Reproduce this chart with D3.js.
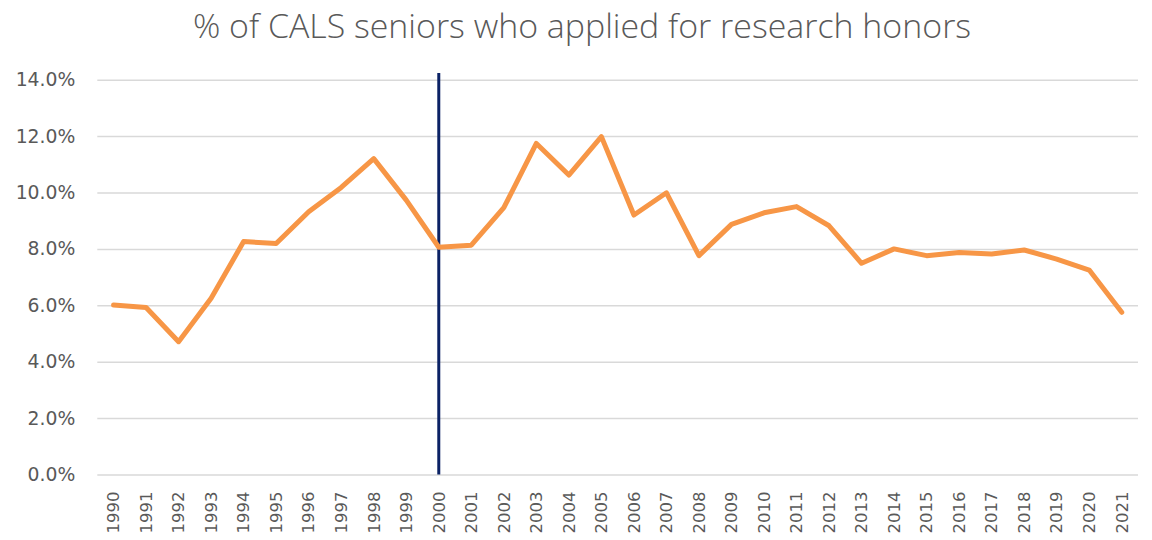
<!DOCTYPE html>
<html><head><meta charset="utf-8">
<script src="https://cdn.jsdelivr.net/npm/d3@7"></script>
<style>body{margin:0;background:#fff}</style>
</head><body>
<svg id="c" width="1152" height="540"></svg>
<script>
const years = ["1990","1991","1992","1993","1994","1995","1996","1997","1998","1999","2000","2001","2002","2003","2004","2005","2006","2007","2008","2009","2010","2011","2012","2013","2014","2015","2016","2017","2018","2019","2020","2021"];
const values = [6.01,5.92,4.71,6.25,8.26,8.19,9.32,10.18,11.2,9.73,8.06,8.13,9.46,11.74,10.62,11.98,9.2,9.99,7.76,8.87,9.28,9.5,8.82,7.49,8.0,7.76,7.87,7.82,7.96,7.64,7.25,5.75];
const yTicks = [0,2,4,6,8,10,12,14];
const markerYear = "2000";
const title = "% of CALS seniors who applied for research honors";

const svg = d3.select("#c");
const mLeft = 97.3, mRight = 1138, mTop = 79.7, mBottom = 474.5;
const x = d3.scaleBand().domain(years).range([mLeft, mRight]);
const y = d3.scaleLinear().domain([0,14]).range([mBottom, mTop]);

svg.append("text").attr("x", 582).attr("y", 38).attr("text-anchor","middle")
  .attr("font-family","Open Sans").attr("font-weight",300).attr("font-size",33.9).attr("fill","#595959").text(title);

const ga = svg.append("g").attr("transform",`translate(${mLeft},0)`)
  .call(d3.axisLeft(y).tickValues(yTicks).tickSize(-(mRight-mLeft)).tickFormat(d=>d.toFixed(1)+"%"));
ga.select(".domain").remove();
ga.selectAll(".tick line").attr("stroke","#d9d9d9").attr("stroke-width",1.5);
ga.selectAll(".tick text").attr("x",-22).attr("font-family","DejaVu Sans").attr("font-size",18.8).attr("fill","#595959");

const gx = svg.append("g").attr("transform",`translate(0,${mBottom})`)
  .call(d3.axisBottom(x).tickSize(0));
gx.select(".domain").remove();
gx.selectAll(".tick text").attr("font-family","DejaVu Sans").attr("font-size",16.5).attr("fill","#595959")
  .attr("transform","rotate(-90)").attr("text-anchor","end").attr("x",-17).attr("y",0).attr("dy","0.35em");

const xc = d => x(d) + x.bandwidth()/2;
svg.append("line").attr("x1",xc(markerYear)).attr("x2",xc(markerYear)).attr("y1",73).attr("y2",mBottom)
  .attr("stroke","#0b2265").attr("stroke-width",3);

svg.append("path").datum(values)
  .attr("d", d3.line().x((d,i)=>xc(years[i])).y(d=>y(d)))
  .attr("fill","none").attr("stroke","#f79646").attr("stroke-width",5).attr("stroke-linejoin","round").attr("stroke-linecap","round");
</script>
</body></html>
